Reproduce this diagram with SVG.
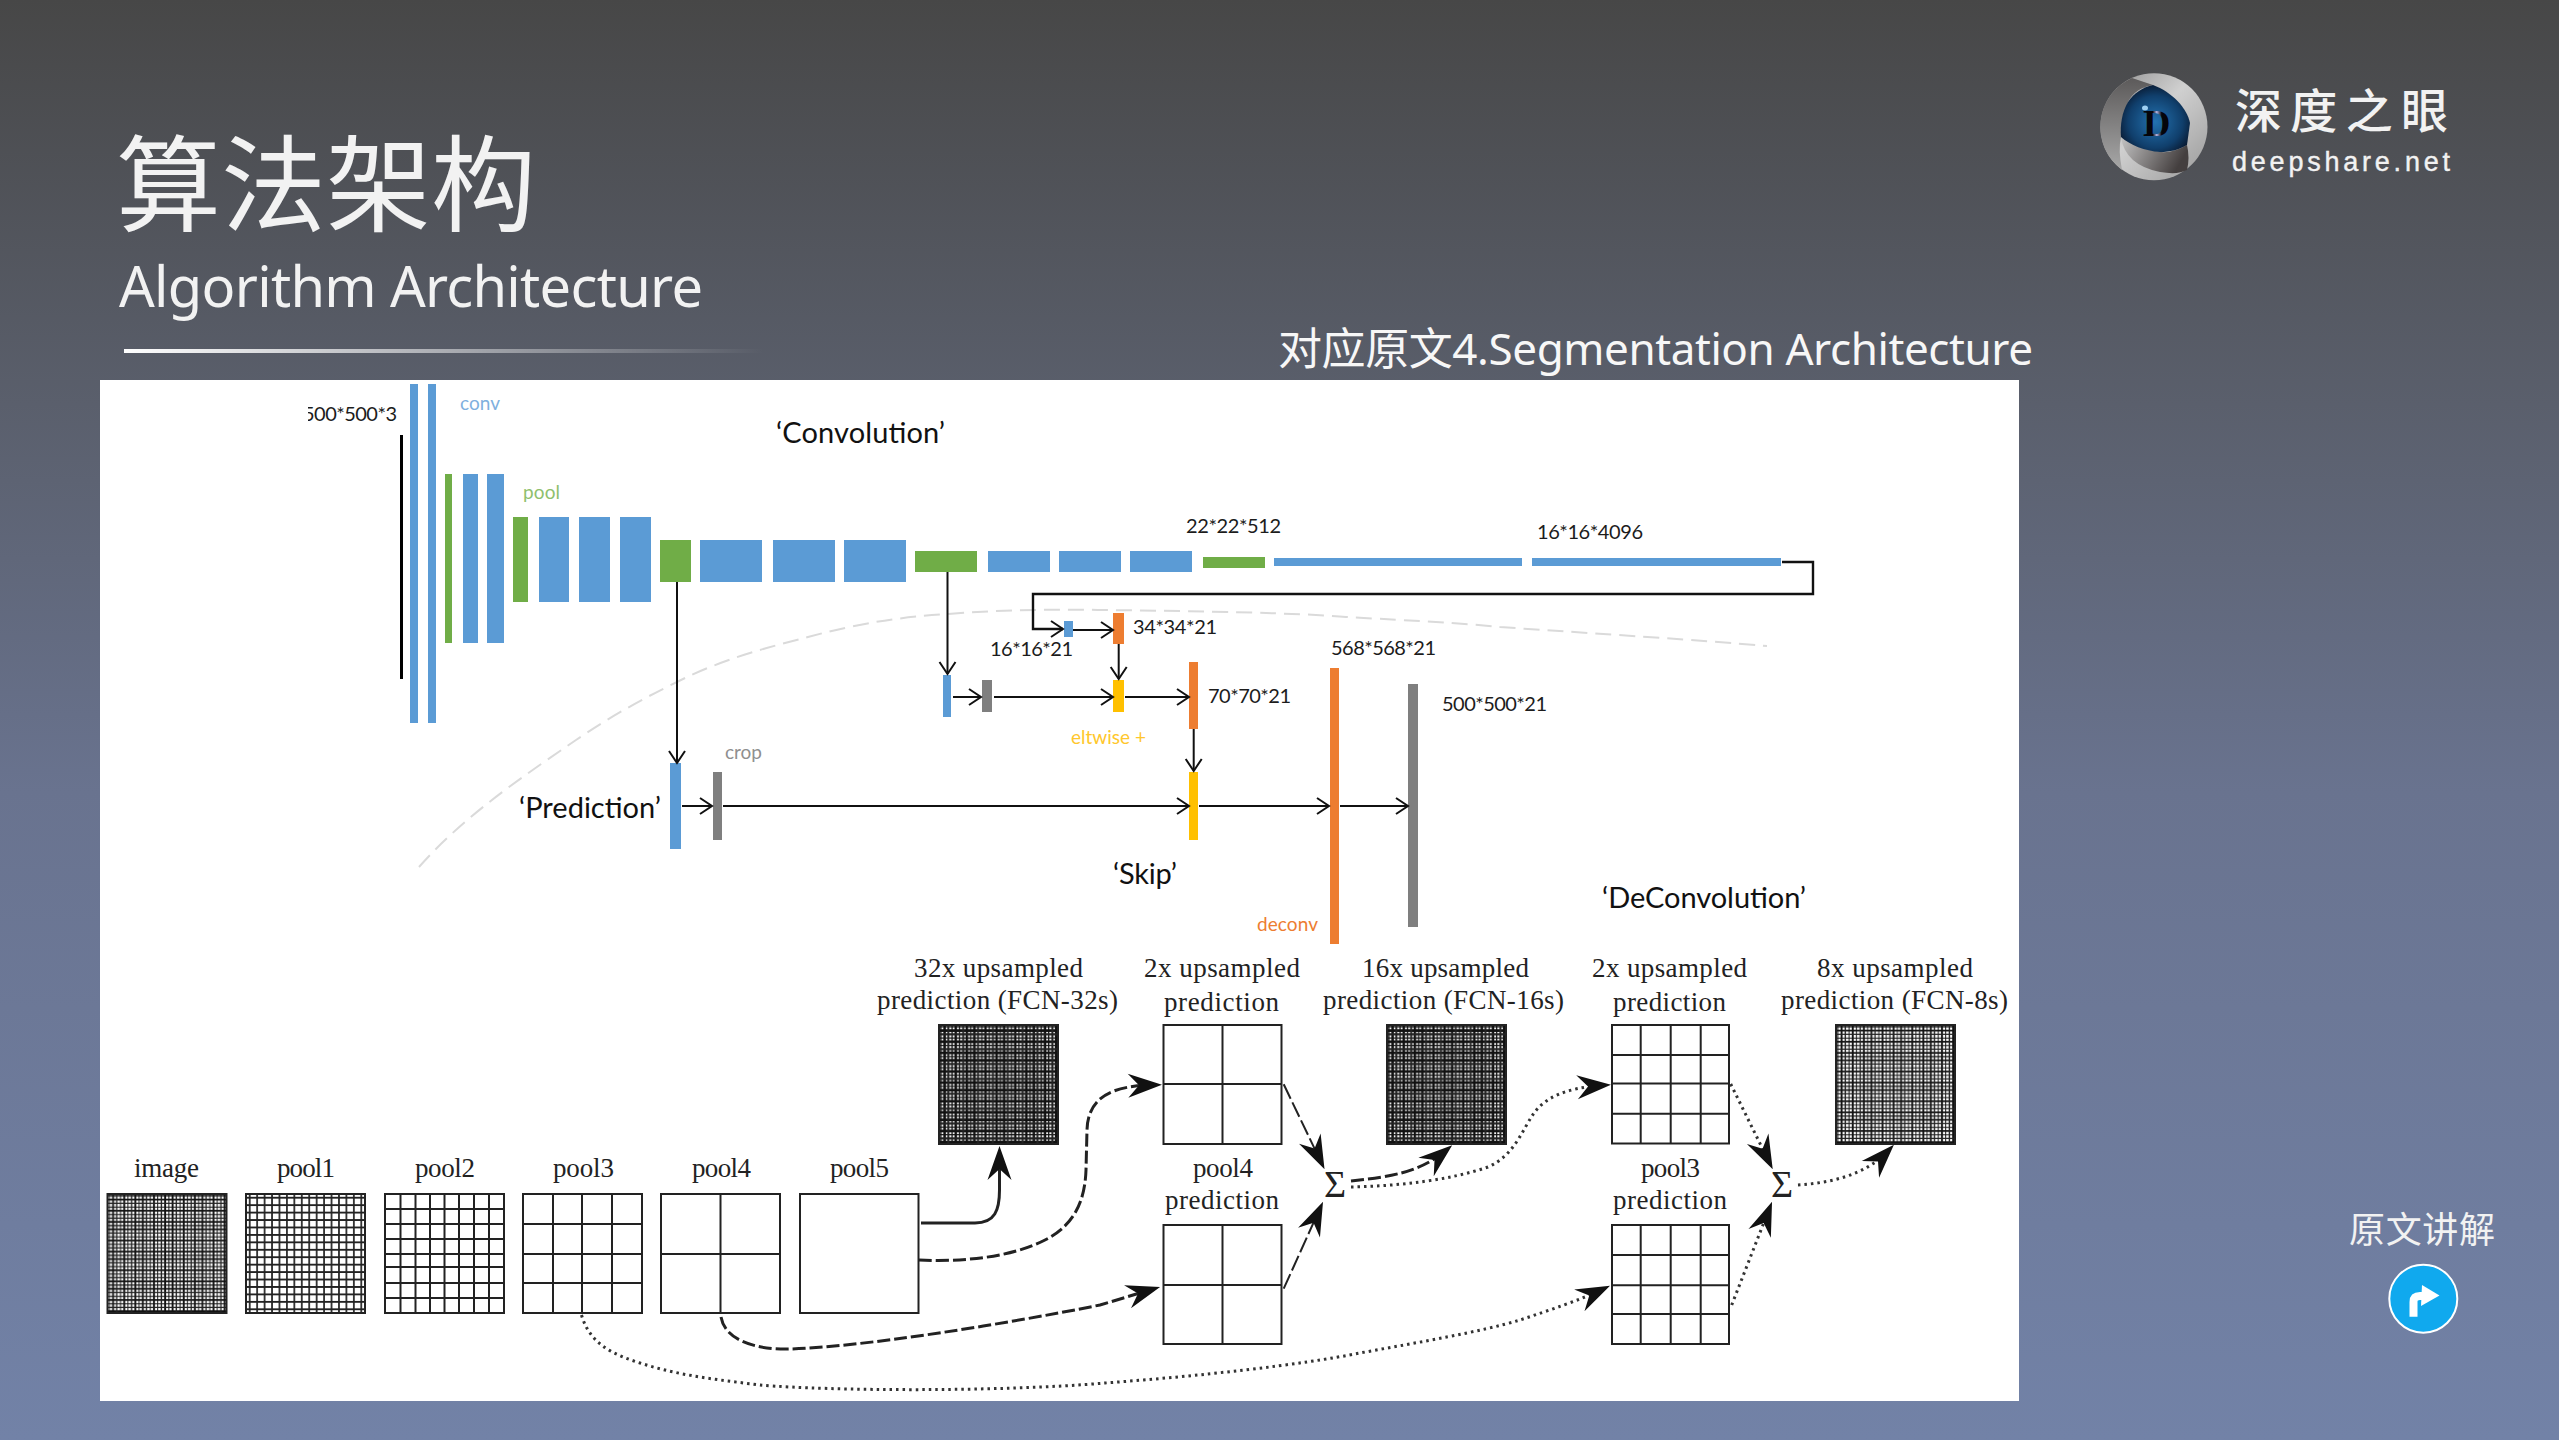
<svg xmlns="http://www.w3.org/2000/svg" width="2559" height="1440" viewBox="0 0 2559 1440">
<style>
.cal{font-family:Lato,"Open Sans",sans-serif}
.dim{font-family:Lato,"Open Sans",sans-serif;font-size:20px;fill:#1c1c1c}
.big{font-family:Lato,"Open Sans",sans-serif;font-size:29px;fill:#111}
.lab{font-family:"Liberation Serif","Noto Serif",serif;font-size:27px;fill:#222}
.wt{fill:#f2f2f2;font-family:"Noto Sans","Noto Sans CJK SC",sans-serif}
.blue{fill:#5b9bd5}.green{fill:#70ad47}.orange{fill:#ed7d31}.gray{fill:#7f7f7f}.yellow{fill:#ffc000}
.thin{fill:none;stroke:#111;stroke-width:2}
.thinA{fill:none;stroke:#111;stroke-width:2;marker-end:url(#vee)}
.box{fill:none;stroke:#222;stroke-width:2}
.grid{fill:none;stroke:#222;stroke-width:2}
.solid{fill:none;stroke:#222;stroke-width:3;marker-end:url(#stealth)}
.dash{fill:none;stroke:#222;stroke-width:3;stroke-dasharray:13 4;marker-end:url(#stealth)}
.dashT{fill:none;stroke:#222;stroke-width:2;stroke-dasharray:16 4;marker-end:url(#stealth)}
.dot{fill:none;stroke:#333;stroke-width:3;stroke-dasharray:2.5 4;marker-end:url(#stealth)}
</style>
<defs>
<linearGradient id="bg" x1="0" y1="0" x2="0" y2="1">
<stop offset="0" stop-color="#474747"/><stop offset="0.28" stop-color="#5a5f6c"/><stop offset="0.55" stop-color="#69738f"/><stop offset="1" stop-color="#7282a7"/>
</linearGradient>
<linearGradient id="rule" x1="0" y1="0" x2="1" y2="0">
<stop offset="0" stop-color="#fff"/><stop offset="1" stop-color="#fff" stop-opacity="0"/>
</linearGradient>
<linearGradient id="silver" x1="0" y1="0" x2="1" y2="1">
<stop offset="0" stop-color="#8b8b8b"/><stop offset="0.45" stop-color="#d0d0d0"/><stop offset="1" stop-color="#9a9a9a"/>
</linearGradient>
<linearGradient id="band" x1="0" y1="0" x2="1" y2="0.3">
<stop offset="0" stop-color="#c4c4c4"/><stop offset="1" stop-color="#443f3f"/>
</linearGradient>
<linearGradient id="leftb" x1="0" y1="0" x2="0" y2="1">
<stop offset="0" stop-color="#5c5a5a"/><stop offset="1" stop-color="#a8a8a8"/>
</linearGradient>
<radialGradient id="eye" cx="0.5" cy="0.55" r="0.6">
<stop offset="0" stop-color="#2372b0"/><stop offset="0.65" stop-color="#103f6c"/><stop offset="1" stop-color="#081428"/>
</radialGradient>
<linearGradient id="dfill" x1="0" y1="0" x2="1" y2="0">
<stop offset="0" stop-color="#05050a"/><stop offset="0.35" stop-color="#05050a"/><stop offset="0.5" stop-color="#b4b6e6"/><stop offset="0.68" stop-color="#05050a"/><stop offset="1" stop-color="#05050a"/>
</linearGradient>
<pattern id="gDark" width="0.25" height="0.25" patternUnits="objectBoundingBox">
<path d="M1.86 0V29.75M13.02 0V29.75M20.46 0V29.75M0 1.86H29.75M13.02 0M0 13.02H29.75M0 20.46H29.75" stroke="#111" stroke-width="1.3" fill="none"/>
<path d="M5.58 0V29.75M16.74 0V29.75M27.9 0V29.75M0 5.58H29.75M0 16.74H29.75M0 27.9H29.75" stroke="#111" stroke-width="2.5" fill="none"/>
<path d="M9.3 0V29.75M24.18 0V29.75M0 9.3H29.75M0 24.18H29.75" stroke="#222" stroke-width="2" fill="none"/>
</pattern>
<pattern id="gMid" width="0.25" height="0.25" patternUnits="objectBoundingBox">
<path d="M1.86 0V29.75M13.02 0V29.75M20.46 0V29.75M0 1.86H29.75M0 13.02H29.75M0 20.46H29.75" stroke="#111" stroke-width="1" fill="none"/>
<path d="M5.58 0V29.75M16.74 0V29.75M27.9 0V29.75M0 5.58H29.75M0 16.74H29.75M0 27.9H29.75" stroke="#111" stroke-width="1.9" fill="none"/>
<path d="M9.3 0V29.75M24.18 0V29.75M0 9.3H29.75M0 24.18H29.75" stroke="#222" stroke-width="1.4" fill="none"/>
</pattern>
<pattern id="g16" width="0.0625" height="0.0625" patternUnits="objectBoundingBox"><path d="M3.72 0V7.44M0 3.72H7.44" stroke="#222" stroke-width="1.7" fill="none"/></pattern>
<marker id="vee" markerUnits="userSpaceOnUse" markerWidth="16" markerHeight="18" refX="13" refY="8" orient="auto" overflow="visible"><path d="M1 0L13 8L1 16" fill="none" stroke="#111" stroke-width="2"/></marker>
<marker id="stealth" markerUnits="userSpaceOnUse" markerWidth="36" markerHeight="26" refX="24" refY="12" orient="auto" overflow="visible"><path d="M0 0L34 12L0 24L11 12Z" fill="#111"/></marker>
<clipPath id="dimclip"><rect x="308" y="395" width="95" height="35"/></clipPath>
</defs>

<rect id="background" width="2559" height="1440" fill="url(#bg)"/>

<g id="header">
<text class="wt" x="116" y="223" font-size="105" textLength="420" style="font-family:'Noto Sans CJK SC',sans-serif">算法架构</text>
<text class="wt" x="119" y="307" font-size="56" textLength="584">Algorithm Architecture</text>
<rect x="124" y="349" width="640" height="4" fill="url(#rule)"/>
<text class="wt" x="1278" y="365" font-size="44" textLength="755" style="fill:#f7f7f7">对应原文4.Segmentation Architecture</text>
</g>

<g id="logo">
<circle cx="2154" cy="126.7" r="53.5" fill="url(#silver)"/>
<path d="M2132 78A53.5 53.5 0 0 0 2122 170Q2118 150 2121 137L2128 102Q2135 88 2153 85Z" fill="url(#leftb)"/>
<path d="M2121 137Q2125 165 2160 172Q2178 175 2187 170Q2190 158 2187 145Q2170 155 2155 151Q2135 147 2121 137Z" fill="url(#band)"/>
<path d="M2153 85C2172 92 2187 108 2190 123L2187 145C2178 150 2170 152 2160 152C2145 151 2130 145 2121 137C2120 125 2122 112 2128 102C2134 93 2143 87 2153 85Z" fill="url(#eye)"/>
<text x="2143" y="136" font-family="'Liberation Serif',serif" font-weight="700" font-size="38" fill="url(#dfill)">D</text>
<ellipse cx="2145" cy="108" rx="3" ry="2.500" fill="#9fd0f2"/>
<text class="wt" x="2235" y="128" font-size="47" font-weight="500" textLength="213" style="font-family:'Noto Sans CJK SC',sans-serif">深度之眼</text>
<text x="2232" y="171" font-family="'Liberation Sans',sans-serif" font-size="27" fill="#f2f2f2" stroke="#f2f2f2" stroke-width="0.4" textLength="218">deepshare.net</text>
</g>

<g id="link">
<text class="wt" x="2349" y="1243" font-size="36" textLength="146" style="font-family:'Noto Sans CJK SC',sans-serif">原文讲解</text>
<circle cx="2423.3" cy="1298.7" r="34" fill="#10a9ee" stroke="#fff" stroke-width="2"/>
<path d="M2413.5 1316.7V1302Q2413.5 1296 2420 1296H2430" fill="none" stroke="#fff" stroke-width="8"/>
<path d="M2422 1285L2439.5 1295.5L2421 1306Z" fill="#fff"/>
</g>

<rect id="panel" x="100" y="380" width="1919" height="1021" fill="#fff"/>

<path id="divider" d="M419 867C465 815 525 775 576 740C610 717 640 700 677 682C720 660 765 648 808 637C860 623 900 617 948 614C1000 610 1050 609 1100 610C1200 611 1300 613 1346 617C1420 621 1460 623 1500 627C1600 634 1700 640 1767 646" fill="none" stroke="#dadada" stroke-width="2" stroke-dasharray="16 8"/>

<g id="convolution-stack">
<rect x="400" y="435" width="3" height="244" fill="#000"/>
<rect class="blue" x="410" y="384" width="8" height="339"/><rect class="blue" x="428" y="384" width="8" height="339"/>
<rect class="green" x="445" y="474" width="7" height="169"/><rect class="blue" x="463" y="474" width="15" height="169"/><rect class="blue" x="487" y="474" width="17" height="169"/>
<rect class="green" x="513" y="517" width="15" height="85"/><rect class="blue" x="539" y="517" width="30" height="85"/><rect class="blue" x="579" y="517" width="31" height="85"/><rect class="blue" x="620" y="517" width="31" height="85"/>
<rect class="green" x="660" y="540" width="31" height="42"/><rect class="blue" x="700" y="540" width="62" height="42"/><rect class="blue" x="773" y="540" width="62" height="42"/><rect class="blue" x="844" y="540" width="62" height="42"/>
<rect class="green" x="915" y="551" width="62" height="21"/><rect class="blue" x="988" y="551" width="62" height="21"/><rect class="blue" x="1059" y="551" width="62" height="21"/><rect class="blue" x="1130" y="551" width="62" height="21"/>
<rect class="green" x="1203" y="557" width="62" height="11"/><rect class="blue" x="1274" y="558" width="248" height="8"/><rect class="blue" x="1532" y="558" width="249" height="8"/>
</g>
<g id="prediction-blocks">
<rect class="blue" x="670" y="763" width="11" height="86"/><rect class="gray" x="713" y="772" width="9" height="68"/>
<rect class="blue" x="943" y="675" width="8" height="42"/><rect class="gray" x="982" y="680" width="10" height="32"/>
<rect class="blue" x="1064" y="621" width="9" height="16"/><rect class="orange" x="1113" y="613" width="11" height="31"/>
<rect class="yellow" x="1113" y="680" width="11" height="32"/><rect class="orange" x="1189" y="662" width="9" height="67"/>
<rect class="yellow" x="1189" y="772" width="9" height="68"/><rect class="orange" x="1330" y="668" width="9" height="276"/><rect class="gray" x="1408" y="684" width="10" height="243"/>
</g>

<g id="connectors-top">
<path class="thinA" d="M677 582V763"/>
<path class="thinA" d="M947.5 572V674"/>
<path class="thinA" d="M1782 562H1813V594H1033V629H1063" style="stroke-width:2.4"/>
<path class="thinA" d="M1073 630H1113"/>
<path class="thinA" d="M1118.7 644V679"/>
<path class="thinA" d="M953 697H981"/>
<path class="thinA" d="M994 697H1113"/>
<path class="thinA" d="M1125 697H1189"/>
<path class="thinA" d="M1193.7 729V771"/>
<path class="thinA" d="M682 806H712"/>
<path class="thinA" d="M723 806H1189"/>
<path class="thinA" d="M1199 806H1329"/>
<path class="thinA" d="M1340 806H1408"/>
</g>

<g id="labels-top">
<g clip-path="url(#dimclip)"><text class="dim" x="303" y="421" textLength="94">500*500*3</text></g>
<text class="cal" x="460" y="410" font-size="19" fill="#7fb0de" textLength="40">conv</text>
<text class="cal" x="523" y="499" font-size="19" fill="#8fbf6d" textLength="37">pool</text>
<text class="big" x="776" y="442.500" textLength="169">‘Convolution’</text>
<text class="big" x="519" y="817.500" textLength="142">‘Prediction’</text>
<text class="big" x="1113" y="884" textLength="64">‘Skip’</text>
<text class="big" x="1602" y="908" textLength="204">‘DeConvolution’</text>
<text class="cal" x="725" y="759" font-size="19" fill="#8f8f8f" textLength="37">crop</text>
<text class="cal" x="1071" y="744" font-size="19" fill="#ffc72c" textLength="75">eltwise +</text>
<text class="cal" x="1257" y="931" font-size="19" fill="#ed7d31" textLength="61">deconv</text>
<text class="dim" x="1186" y="533" textLength="95">22*22*512</text>
<text class="dim" x="1537" y="539" textLength="106">16*16*4096</text>
<text class="dim" x="1133" y="634" textLength="84">34*34*21</text>
<text class="dim" x="990" y="656" textLength="83">16*16*21</text>
<text class="dim" x="1331" y="655" textLength="105">568*568*21</text>
<text class="dim" x="1208" y="703" textLength="83">70*70*21</text>
<text class="dim" x="1442" y="711" textLength="105">500*500*21</text>
</g>

<g id="node-image"><text class="lab" x="134" y="1177" textLength="65">image</text><rect x="107.5" y="1194" width="119" height="119" fill="url(#gMid)"/><rect class="box" x="107.5" y="1194" width="119" height="119"/></g>
<g id="node-pool1"><text class="lab" x="277" y="1177" textLength="58">pool1</text><rect x="246" y="1194" width="119" height="119" fill="url(#g16)"/><rect class="box" x="246" y="1194" width="119" height="119"/></g>
<g id="node-pool2"><text class="lab" x="415" y="1177" textLength="60">pool2</text><rect class="box" x="385" y="1194" width="119" height="119"/><path class="grid" d="M400.500 1194V1313M415.500 1194V1313M430 1194V1313M444.500 1194V1313M459 1194V1313M474 1194V1313M489 1194V1313M385 1209H504M385 1224H504M385 1239H504M385 1254H504M385 1267H504M385 1283H504M385 1298H504"/></g>
<g id="node-pool3"><text class="lab" x="553" y="1177" textLength="61">pool3</text><rect class="box" x="523" y="1194" width="119" height="119"/><path class="grid" d="M553 1194V1313M582 1194V1313M612 1194V1313M523 1224H642M523 1254H642M523 1283H642"/></g>
<g id="node-pool4"><text class="lab" x="692" y="1177" textLength="59">pool4</text><rect class="box" x="661" y="1194" width="119" height="119"/><path class="grid" d="M720.500 1194V1313M661 1254H780"/></g>
<g id="node-pool5"><text class="lab" x="830" y="1177" textLength="59">pool5</text><rect class="box" x="800" y="1194" width="118.500" height="119"/></g>

<g id="node-fcn32"><text class="lab" x="914" y="977" textLength="169">32x upsampled</text><text class="lab" x="877" y="1009" textLength="241">prediction (FCN-32s)</text><rect x="939" y="1025" width="119" height="119" fill="url(#gDark)"/><rect class="box" x="939" y="1025" width="119" height="119"/></g>
<g id="node-up2a"><text class="lab" x="1144" y="977" textLength="156">2x upsampled</text><text class="lab" x="1164" y="1011" textLength="115">prediction</text><rect class="box" x="1163.500" y="1025" width="118" height="119"/><path class="grid" d="M1222.500 1025V1144M1163.500 1084H1281.500"/></g>
<g id="node-pool4pred"><text class="lab" x="1193" y="1177" textLength="60">pool4</text><text class="lab" x="1165" y="1209" textLength="114">prediction</text><rect class="box" x="1163.500" y="1225" width="118" height="119"/><path class="grid" d="M1222.500 1225V1344M1163.500 1285H1281.500"/></g>
<g id="node-fcn16"><text class="lab" x="1362" y="977" textLength="167">16x upsampled</text><text class="lab" x="1323" y="1009" textLength="241">prediction (FCN-16s)</text><rect x="1387" y="1025" width="119" height="119" fill="url(#gDark)"/><rect class="box" x="1387" y="1025" width="119" height="119"/></g>
<g id="node-up2b"><text class="lab" x="1592" y="977" textLength="155">2x upsampled</text><text class="lab" x="1613" y="1011" textLength="113">prediction</text><rect class="box" x="1612" y="1025" width="117" height="118.500"/><path class="grid" d="M1640.700 1025V1143.500M1670.700 1025V1143.500M1700.700 1025V1143.500M1612 1055H1729M1612 1083.500H1729M1612 1113.700H1729"/></g>
<g id="node-pool3pred"><text class="lab" x="1641" y="1177" textLength="59">pool3</text><text class="lab" x="1613" y="1209" textLength="114">prediction</text><rect class="box" x="1612" y="1225" width="117" height="119"/><path class="grid" d="M1640.700 1225V1344M1670.700 1225V1344M1700.700 1225V1344M1612 1255H1729M1612 1285.300H1729M1612 1314H1729"/></g>
<g id="node-fcn8"><text class="lab" x="1817" y="977" textLength="156">8x upsampled</text><text class="lab" x="1781" y="1009" textLength="227">prediction (FCN-8s)</text><rect x="1836" y="1025" width="119" height="119" fill="url(#gMid)"/><rect class="box" x="1836" y="1025" width="119" height="119"/></g>
<g id="node-sum1"><text x="1324" y="1197" font-family="'Liberation Serif',serif" font-size="38" fill="#222">Σ</text></g>
<g id="node-sum2"><text x="1771" y="1197" font-family="'Liberation Serif',serif" font-size="38" fill="#222">Σ</text></g>

<g id="connectors-bottom">
<path class="solid" d="M921 1223H975C995 1223 999.500 1210 999.500 1190V1156"/>
<path class="dash" d="M919 1260C960 1262 1010 1258 1045 1240C1075 1225 1085 1200 1086 1170L1087 1130C1088 1095 1115 1086 1152 1085"/>
<path class="dash" d="M721 1317C725 1340 755 1350 790 1349C860 1347 1000 1325 1100 1305L1150.500 1289.800"/>
<path class="dashT" d="M1283.700 1084.300L1320.200 1160.300"/>
<path class="dashT" d="M1283.700 1288.700L1318.900 1210.800"/>
<path class="dash" d="M1351 1181C1390 1177 1420 1172 1444.500 1151.600"/>
<path class="dot" d="M1351 1187C1400 1186 1450 1180 1488 1167C1515 1155 1522 1130 1534 1113C1545 1098 1565 1088 1601 1085.500"/>
<path class="dot" d="M581.500 1315C590 1345 615 1355 640 1363C680 1376 720 1380 760 1385C830 1391 1000 1392 1105 1383C1200 1376 1300 1365 1360 1353C1420 1342 1480 1332 1520 1320C1550 1310 1580 1300 1601 1290"/>
<path class="dot" d="M1730.700 1084L1768.300 1160.300"/>
<path class="dot" d="M1731.700 1305L1768.400 1211"/>
<path class="dot" d="M1798 1185C1830 1183 1865 1175 1887 1152"/>
</g>
</svg>
